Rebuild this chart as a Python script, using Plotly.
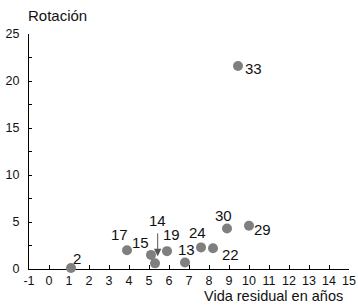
import plotly.graph_objects as go

# Data
point_ids = ["2", "17", "15", "14", "19", "13", "24", "22", "30", "29", "33"]
vida_residual = [1.1, 3.9, 5.1, 5.3, 5.9, 6.8, 7.6, 8.2, 8.9, 10.0, 9.45]
rotacion = [0.1, 2.0, 1.5, 0.6, 1.9, 0.7, 2.3, 2.2, 4.3, 4.6, 21.6]

x_tick_values = list(range(-1, 16))
x_tick_labels = [str(v) for v in x_tick_values]
y_tick_values = [0, 5, 10, 15, 20, 25]

# label placement (pixel offsets: dx right, dy down)
label_offsets = {
    "2": (6, -10), "17": (-8, -16), "15": (-10.5, -12), "19": (4.5, -17),
    "13": (1, -13), "24": (-4, -15), "22": (17, 6), "30": (-4, -13),
    "29": (13.5, 4), "33": (15, 3),
}
FONT = "Liberation Sans, Arial, sans-serif"

fig = go.Figure()
fig.add_trace(go.Scatter(
    x=vida_residual, y=rotacion, mode="markers",
    marker=dict(size=10, color="#7f7f7f", line=dict(width=0)),
    cliponaxis=False, hoverinfo="skip", showlegend=False,
))

annotations = []
for pid, xv, yv in zip(point_ids, vida_residual, rotacion):
    if pid == "14":
        annotations.append(dict(
            x=xv, y=yv, xref="x", yref="y", text=pid, showarrow=True,
            ax=0, ay=-43, axref="pixel", ayref="pixel",
            arrowhead=2, arrowsize=1.5, arrowwidth=1, arrowcolor="#555555",
            standoff=7, startstandoff=3, xshift=2.7,
            font=dict(family=FONT, size=15, color="#111111"),
        ))
    else:
        dx, dy = label_offsets[pid]
        annotations.append(dict(
            x=xv, y=yv, xref="x", yref="y", text=pid, showarrow=False,
            xshift=dx, yshift=-dy, xanchor="center", yanchor="middle",
            font=dict(family=FONT, size=15, color="#111111"),
        ))

annotations.append(dict(
    x=0, y=1, xref="paper", yref="paper", text="Rotación", showarrow=False,
    xanchor="left", yanchor="bottom", xshift=-3, yshift=8,
    font=dict(family=FONT, size=15, color="#111111"),
))
annotations.append(dict(
    x=1, y=0, xref="paper", yref="paper", text="Vida residual en años", showarrow=False,
    xanchor="right", yanchor="bottom", xshift=-4, yshift=-37,
    font=dict(family=FONT, size=14.5, color="#111111"),
))

fig.update_layout(
    width=358, height=307,
    margin=dict(l=29, r=9, t=34, b=38, autoexpand=False),
    paper_bgcolor="white", plot_bgcolor="white",
    annotations=annotations,
    xaxis=dict(
        range=[-1, 15], tickvals=x_tick_values, ticktext=x_tick_labels,
        ticks="inside", ticklen=4,
        tickcolor="#000", showline=True, linecolor="#000", linewidth=1,
        showgrid=False, zeroline=False, layer="below traces", automargin=False,
        tickfont=dict(family=FONT, size=12.5, color="#111111"),
    ),
    yaxis=dict(
        range=[0, 25], tickvals=y_tick_values, ticks="inside", ticklen=3,
        tickcolor="#000", showline=True, linecolor="#000", linewidth=1,
        showgrid=False, zeroline=False, layer="below traces", automargin=False,
        minor=dict(dtick=2.5, ticks="inside", ticklen=3, tickcolor="#000", showgrid=False),
        ticklabelstandoff=6,
        tickfont=dict(family=FONT, size=12.5, color="#111111"),
    ),
)

fig.write_html(
    "out.html",
    config={"displayModeBar": False, "staticPlot": True},
    post_script="document.body.style.margin='0';document.body.style.padding='0';",
)
